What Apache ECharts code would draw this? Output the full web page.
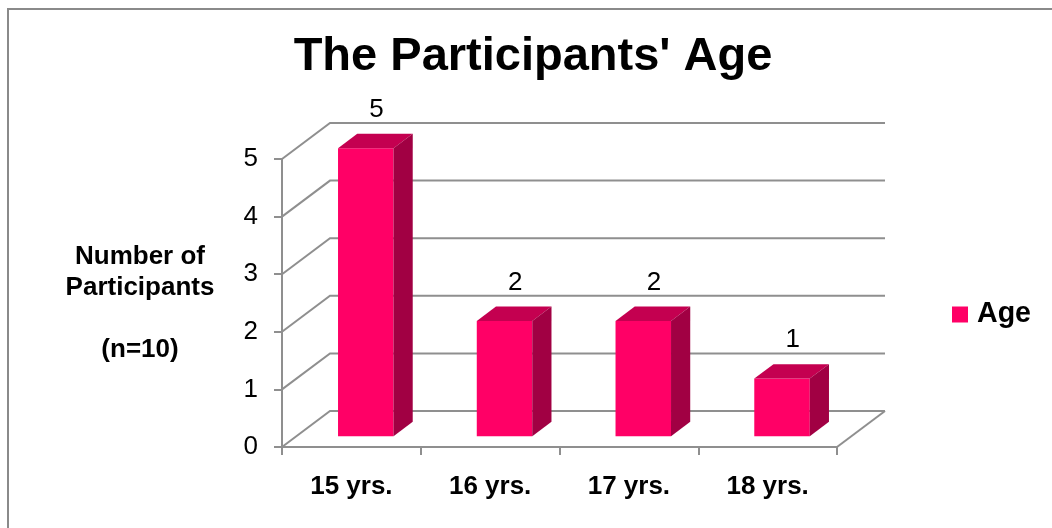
<!DOCTYPE html>
<html>
<head>
<meta charset="utf-8">
<title>The Participants' Age</title>
<script src="https://cdn.jsdelivr.net/npm/echarts@6/dist/echarts.min.js"></script>
<style>
  html, body { margin: 0; padding: 0; background: #fff; }
  #chart { width: 1052px; height: 528px; }
</style>
</head>
<body>
<div id="chart"></div>
<script>
// Age groups and how many participants fall into each
const categories = ['15 yrs.', '16 yrs.', '17 yrs.', '18 yrs.'];
const ageCounts = [5, 2, 2, 1];
const yTicks = [0, 1, 2, 3, 4, 5];

// Pseudo-3D look: depth of the floor in pixels, and the slice of it a bar occupies
const DEPTH_X = 48;
const DEPTH_Y = -36;
const BAR_DEPTH_FROM = 0.3;
const BAR_DEPTH_TO = 0.7;
const BAR_WIDTH_RATIO = 0.4;

const FONT = '"Liberation Sans", Arial, Helvetica, sans-serif';
const GRID_COLOR = '#8f8f8f';
const COLOR_FRONT = '#FF0066';
const COLOR_TOP = '#C40050';
const COLOR_SIDE = '#A10043';

// Back wall lines and floor outline
function renderWall(params, api) {
  const v = api.value(1);
  const cs = params.coordSys;
  const y = api.coord([0, v])[1];
  const x0 = cs.x, x1 = cs.x + cs.width;
  const style = { stroke: GRID_COLOR, lineWidth: 2, fill: null };
  const children = [{
    type: 'polyline',
    shape: { points: [[x0, y], [x0 + DEPTH_X, y + DEPTH_Y], [x1 + DEPTH_X, y + DEPTH_Y]] },
    style: style
  }];
  if (v === 0) {
    children.push({
      type: 'line',
      shape: { x1: x1, y1: y, x2: x1 + DEPTH_X, y2: y + DEPTH_Y },
      style: style
    });
  }
  return { type: 'group', children: children };
}

// Box-shaped bars with front, top and side faces plus a value label
function renderBar(params, api) {
  const idx = api.value(0);
  const val = api.value(1);
  const base = api.coord([idx, 0]);
  const top = api.coord([idx, val]);
  const band = api.size([1, 0])[0];
  const w = band * BAR_WIDTH_RATIO;
  const fx = DEPTH_X * BAR_DEPTH_FROM, fy = DEPTH_Y * BAR_DEPTH_FROM;
  const dx = DEPTH_X * (BAR_DEPTH_TO - BAR_DEPTH_FROM);
  const dy = DEPTH_Y * (BAR_DEPTH_TO - BAR_DEPTH_FROM);
  const x0 = base[0] - w / 2 + fx, x1 = x0 + w;
  const yb = base[1] + fy, yt = top[1] + fy;
  return {
    type: 'group',
    children: [
      { type: 'rect', shape: { x: x0, y: yt, width: w, height: yb - yt },
        style: { fill: COLOR_FRONT } },
      { type: 'polygon', shape: { points: [[x0, yt], [x1, yt], [x1 + dx, yt + dy], [x0 + dx, yt + dy]] },
        style: { fill: COLOR_TOP } },
      { type: 'polygon', shape: { points: [[x1, yt], [x1 + dx, yt + dy], [x1 + dx, yb + dy], [x1, yb]] },
        style: { fill: COLOR_SIDE } },
      { type: 'text',
        style: { text: String(val), x: (x0 + x1) / 2 + dx / 2 + 1, y: yt + dy - 24,
          align: 'center', verticalAlign: 'middle', fill: '#000',
          font: '26px ' + FONT } }
    ]
  };
}

const chart = echarts.init(document.getElementById('chart'), null, { renderer: 'canvas' });

chart.setOption({
  animation: false,
  backgroundColor: '#fff',
  textStyle: { fontFamily: FONT },
  title: {
    text: "The Participants' Age",
    left: 533,
    top: 34,
    textAlign: 'center',
    padding: 0,
    textStyle: { fontSize: 47, fontWeight: 'bold', color: '#000', fontFamily: FONT }
  },
  legend: {
    data: ['Age'],
    left: 952,
    top: 300,
    padding: 0,
    icon: 'rect',
    itemWidth: 16,
    itemHeight: 16,
    textStyle: { fontSize: 28.6, fontWeight: 'bold', color: '#000', fontFamily: FONT, padding: [0, 0, 0, 4] }
  },
  grid: { left: 282, right: 215, top: 159, bottom: 81, containLabel: false },
  xAxis: {
    type: 'category',
    data: categories,
    axisLine: { lineStyle: { color: GRID_COLOR, width: 2 } },
    axisTick: { show: true, length: 8, lineStyle: { color: GRID_COLOR, width: 2 } },
    axisLabel: { fontSize: 26, fontWeight: 'bold', color: '#000', margin: 27, fontFamily: FONT },
    splitLine: { show: false }
  },
  yAxis: {
    type: 'value',
    min: 0,
    max: 5,
    interval: 1,
    axisLine: { show: true, lineStyle: { color: GRID_COLOR, width: 2 } },
    axisTick: { show: true, length: 8, lineStyle: { color: GRID_COLOR, width: 2 } },
    axisLabel: { fontSize: 26, color: '#000', margin: 24, fontFamily: FONT },
    splitLine: { show: false },
    name: 'Number of\nParticipants\n\n(n=10)',
    nameLocation: 'middle',
    nameRotate: 0,
    nameGap: 142,
    nameTextStyle: { fontSize: 26, fontWeight: 'bold', color: '#000', align: 'center',
      verticalAlign: 'middle', lineHeight: 31, padding: [5, 0, 0, 0], fontFamily: FONT }
  },
  series: [
    {
      type: 'custom',
      name: 'wall',
      silent: true,
      z: 1,
      renderItem: renderWall,
      encode: { x: 0, y: 1 },
      data: yTicks.map(v => [0, v])
    },
    {
      type: 'custom',
      name: 'Age',
      z: 2,
      itemStyle: { color: COLOR_FRONT },
      renderItem: renderBar,
      encode: { x: 0, y: 1 },
      data: ageCounts.map((v, i) => [i, v])
    }
  ],
  graphic: [{
    type: 'rect',
    silent: true,
    shape: { x: 8, y: 9, width: 1100, height: 600 },
    style: { fill: null, stroke: '#8a8a8a', lineWidth: 2 }
  }]
});
</script>
</body>
</html>
